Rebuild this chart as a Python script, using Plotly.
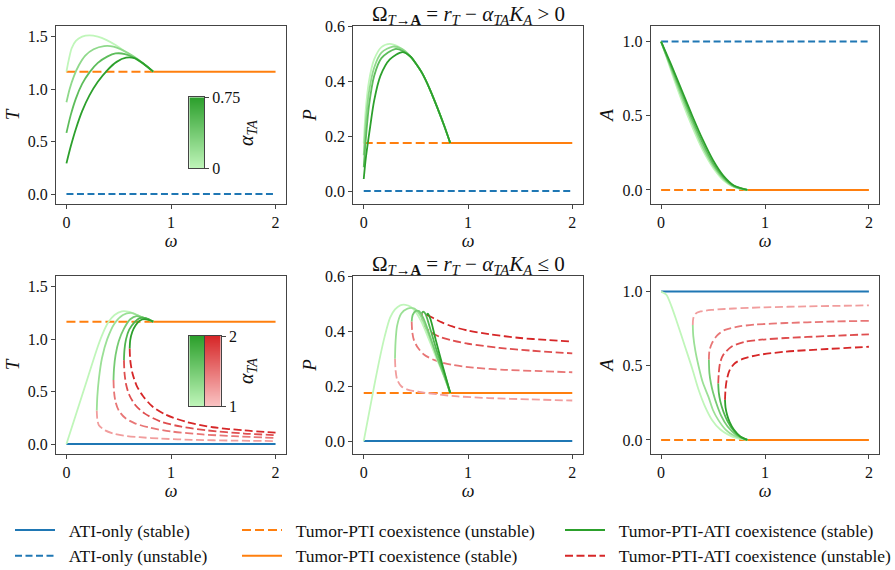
import plotly.graph_objects as go

W, H = 895, 570
FONT = "Liberation Serif, Times New Roman, DejaVu Serif, serif"

# ---------------- data ----------------
omega_span = [0.0, 2.0]
omega_switch = 0.83          # Tumor-PTI coexistence becomes stable beyond this ω

ati_T, ati_P, ati_A = 0.0, 0.0, 1.0
pti_T, pti_P, pti_A = 1.167, 0.175, 0.0

# top row: Ω > 0, α_TA in [0, 0.75]
alpha_top = [0.0, 0.25, 0.5, 0.75]
alpha_top_range = [0.0, 0.75]

top_T_w = [
    [0.0, 0.02, 0.05, 0.09, 0.15, 0.22, 0.3, 0.38, 0.47, 0.56, 0.66, 0.75, 0.83],
    [0.0, 0.03, 0.07, 0.12, 0.18, 0.26, 0.36, 0.45, 0.54, 0.63, 0.73, 0.83],
    [0.0, 0.04, 0.09, 0.15, 0.22, 0.3, 0.39, 0.47, 0.56, 0.65, 0.74, 0.83],
    [0.0, 0.04, 0.09, 0.15, 0.22, 0.3, 0.39, 0.48, 0.57, 0.65, 0.74, 0.83],
]
top_T = [
    [1.167, 1.27, 1.39, 1.46, 1.50, 1.512, 1.50, 1.47, 1.42, 1.36, 1.29, 1.23, 1.167],
    [0.875, 1.0, 1.12, 1.23, 1.32, 1.38, 1.41, 1.405, 1.37, 1.32, 1.25, 1.167],
    [0.583, 0.75, 0.91, 1.05, 1.16, 1.25, 1.31, 1.34, 1.335, 1.3, 1.24, 1.167],
    [0.292, 0.45, 0.62, 0.79, 0.94, 1.07, 1.18, 1.26, 1.30, 1.295, 1.24, 1.167],
]

top_P_w = [
    [0.0, 0.02, 0.05, 0.1, 0.17, 0.25, 0.33, 0.42, 0.5, 0.56, 0.63, 0.7, 0.77, 0.83],
    [0.0, 0.02, 0.05, 0.1, 0.17, 0.28, 0.36, 0.44, 0.5, 0.56, 0.63, 0.7, 0.77, 0.83],
    [0.0, 0.02, 0.05, 0.1, 0.17, 0.3, 0.38, 0.45, 0.5, 0.56, 0.63, 0.7, 0.77, 0.83],
    [0.0, 0.02, 0.06, 0.1, 0.16, 0.25, 0.37, 0.45, 0.5, 0.56, 0.63, 0.7, 0.77, 0.83],
]
top_P = [
    [0.175, 0.30, 0.40, 0.48, 0.525, 0.537, 0.527, 0.50, 0.465, 0.43, 0.375, 0.31, 0.24, 0.175],
    [0.131, 0.25, 0.36, 0.45, 0.505, 0.527, 0.52, 0.495, 0.465, 0.43, 0.375, 0.31, 0.24, 0.175],
    [0.087, 0.19, 0.31, 0.42, 0.485, 0.518, 0.51, 0.49, 0.465, 0.43, 0.375, 0.31, 0.24, 0.175],
    [0.044, 0.12, 0.23, 0.33, 0.42, 0.48, 0.507, 0.49, 0.465, 0.43, 0.375, 0.31, 0.24, 0.175],
]

top_A_w = [
    [0.0, 0.05, 0.1, 0.2, 0.3, 0.4, 0.5, 0.6, 0.7, 0.83],
    [0.0, 0.05, 0.1, 0.2, 0.3, 0.4, 0.5, 0.6, 0.7, 0.83],
    [0.0, 0.05, 0.1, 0.2, 0.3, 0.4, 0.5, 0.6, 0.7, 0.83],
    [0.0, 0.05, 0.1, 0.2, 0.3, 0.4, 0.5, 0.6, 0.7, 0.83],
]
top_A = [
    [1.0, 0.90, 0.795, 0.60, 0.425, 0.27, 0.15, 0.065, 0.02, 0.0],
    [1.0, 0.905, 0.81, 0.625, 0.45, 0.29, 0.165, 0.075, 0.022, 0.0],
    [1.0, 0.91, 0.825, 0.65, 0.475, 0.315, 0.18, 0.085, 0.027, 0.0],
    [1.0, 0.92, 0.84, 0.67, 0.50, 0.34, 0.20, 0.095, 0.03, 0.0],
]

# bottom row: Ω <= 0, α_TA in [1, 2]
alpha_bot = [1.0, 1.25, 1.5, 1.75, 2.0]
alpha_bot_range = [1.0, 2.0]

bot_T_stable_w = [
    [0.0, 0.1, 0.2, 0.3, 0.35, 0.4, 0.46, 0.53, 0.6, 0.7, 0.83],
    [0.29, 0.295, 0.31, 0.34, 0.39, 0.46, 0.54, 0.62, 0.72, 0.83],
    [0.45, 0.455, 0.47, 0.5, 0.55, 0.61, 0.67, 0.75, 0.83],
    [0.55, 0.555, 0.57, 0.6, 0.65, 0.7, 0.76, 0.83],
    [0.605, 0.61, 0.63, 0.66, 0.7, 0.75, 0.83],
]
bot_T_stable = [
    [0.0, 0.31, 0.62, 0.93, 1.06, 1.16, 1.23, 1.265, 1.26, 1.22, 1.167],
    [0.32, 0.45, 0.62, 0.82, 1.0, 1.15, 1.23, 1.25, 1.21, 1.167],
    [0.61, 0.72, 0.85, 0.98, 1.1, 1.19, 1.22, 1.2, 1.167],
    [0.80, 0.9, 1.0, 1.09, 1.16, 1.2, 1.2, 1.167],
    [0.91, 0.99, 1.07, 1.13, 1.175, 1.19, 1.167],
]
bot_T_unstable_w = [
    [0.29, 0.295, 0.31, 0.37, 0.45, 0.55, 0.7, 0.9, 1.2, 1.6, 2.0],
    [0.45, 0.455, 0.47, 0.5, 0.56, 0.65, 0.8, 1.0, 1.3, 1.6, 2.0],
    [0.55, 0.555, 0.57, 0.6, 0.66, 0.75, 0.9, 1.1, 1.35, 1.7, 2.0],
    [0.605, 0.61, 0.63, 0.67, 0.73, 0.82, 0.95, 1.15, 1.4, 1.7, 2.0],
]
bot_T_unstable = [
    [0.32, 0.24, 0.18, 0.13, 0.10, 0.08, 0.065, 0.052, 0.04, 0.033, 0.028],
    [0.61, 0.50, 0.40, 0.32, 0.25, 0.20, 0.155, 0.12, 0.092, 0.075, 0.058],
    [0.80, 0.68, 0.57, 0.47, 0.37, 0.29, 0.215, 0.165, 0.13, 0.10, 0.085],
    [0.91, 0.80, 0.68, 0.56, 0.46, 0.36, 0.28, 0.21, 0.16, 0.13, 0.108],
]

bot_P_stable_w = [
    [0.0, 0.05, 0.1, 0.157, 0.2, 0.253, 0.3, 0.35, 0.4, 0.45, 0.5, 0.56, 0.62, 0.7, 0.77, 0.83],
    [0.30, 0.305, 0.32, 0.36, 0.42, 0.48, 0.54, 0.6, 0.68, 0.76, 0.83],
    [0.46, 0.47, 0.5, 0.53, 0.57, 0.62, 0.7, 0.77, 0.83],
    [0.557, 0.57, 0.59, 0.63, 0.7, 0.77, 0.83],
    [0.605, 0.615, 0.64, 0.69, 0.76, 0.83],
]
bot_P_stable = [
    [0.0, 0.1, 0.2, 0.308, 0.38, 0.45, 0.48, 0.495, 0.497, 0.49, 0.47, 0.43, 0.375, 0.30, 0.235, 0.175],
    [0.30, 0.36, 0.42, 0.465, 0.483, 0.484, 0.46, 0.41, 0.33, 0.25, 0.175],
    [0.436, 0.46, 0.475, 0.474, 0.45, 0.40, 0.31, 0.24, 0.175],
    [0.466, 0.472, 0.465, 0.42, 0.33, 0.25, 0.175],
    [0.46, 0.465, 0.445, 0.37, 0.27, 0.175],
]
bot_P_unstable_w = [
    [0.30, 0.305, 0.32, 0.36, 0.42, 0.52, 0.7, 0.9, 1.2, 1.6, 2.0],
    [0.46, 0.465, 0.48, 0.52, 0.58, 0.68, 0.85, 1.05, 1.35, 1.7, 2.0],
    [0.557, 0.565, 0.59, 0.65, 0.73, 0.85, 1.0, 1.3, 1.6, 2.0],
    [0.605, 0.63, 0.67, 0.75, 0.85, 1.0, 1.2, 1.5, 1.75, 2.0],
]
bot_P_unstable = [
    [0.30, 0.26, 0.225, 0.20, 0.188, 0.18, 0.171, 0.163, 0.157, 0.152, 0.148],
    [0.436, 0.40, 0.37, 0.34, 0.315, 0.295, 0.278, 0.268, 0.26, 0.255, 0.251],
    [0.466, 0.44, 0.415, 0.395, 0.38, 0.367, 0.355, 0.34, 0.33, 0.32],
    [0.46, 0.456, 0.448, 0.433, 0.418, 0.403, 0.39, 0.376, 0.369, 0.363],
]

bot_A_stable_w = [
    [0.0, 0.05, 0.1, 0.15, 0.23, 0.3, 0.36, 0.42, 0.49, 0.57, 0.65, 0.73, 0.83],
    [0.305, 0.31, 0.33, 0.36, 0.4, 0.456, 0.5, 0.55, 0.62, 0.7, 0.83],
    [0.46, 0.465, 0.48, 0.5, 0.54, 0.58, 0.64, 0.72, 0.83],
    [0.55, 0.555, 0.57, 0.6, 0.64, 0.7, 0.76, 0.83],
    [0.615, 0.62, 0.635, 0.66, 0.7, 0.76, 0.83],
]
bot_A_stable = [
    [1.0, 0.98, 0.9, 0.8, 0.63, 0.48, 0.34, 0.23, 0.135, 0.07, 0.034, 0.012, 0.0],
    [0.775, 0.70, 0.60, 0.50, 0.39, 0.29, 0.20, 0.135, 0.07, 0.03, 0.0],
    [0.54, 0.45, 0.38, 0.32, 0.23, 0.16, 0.09, 0.035, 0.0],
    [0.38, 0.32, 0.26, 0.19, 0.125, 0.06, 0.022, 0.0],
    [0.27, 0.22, 0.17, 0.12, 0.07, 0.025, 0.0],
]
bot_A_unstable_w = [
    [0.305, 0.31, 0.33, 0.38, 0.5, 0.7, 1.0, 1.4, 2.0],
    [0.46, 0.465, 0.49, 0.54, 0.615, 0.75, 0.9, 1.2, 1.6, 2.0],
    [0.55, 0.555, 0.567, 0.6, 0.68, 0.8, 0.94, 1.2, 1.6, 2.0],
    [0.615, 0.62, 0.632, 0.66, 0.71, 0.8, 0.94, 1.2, 1.6, 2.0],
]
bot_A_unstable = [
    [0.775, 0.82, 0.85, 0.866, 0.877, 0.886, 0.894, 0.90, 0.907],
    [0.54, 0.60, 0.652, 0.705, 0.742, 0.765, 0.777, 0.788, 0.797, 0.803],
    [0.38, 0.45, 0.517, 0.575, 0.63, 0.66, 0.674, 0.687, 0.70, 0.712],
    [0.27, 0.34, 0.405, 0.47, 0.517, 0.55, 0.573, 0.595, 0.613, 0.628],
]

legend_labels = [
    "ATI-only (stable)", "ATI-only (unstable)",
    "Tumor-PTI coexistence (unstable)", "Tumor-PTI coexistence (stable)",
    "Tumor-PTI-ATI coexistence (stable)", "Tumor-PTI-ATI coexistence (unstable)",
]

# ---------------- styles ----------------
BLUE, ORANGE, GREEN, RED = "#1f77b4", "#ff7f0e", "#2ca02c", "#d62728"
GREEN_LO, GREEN_HI = (192, 246, 186), (44, 160, 44)
RED_LO, RED_HI = (250, 196, 196), (214, 39, 40)
DASH_BLUE, DASH_ORANGE, DASH_RED = "7px,3.5px", "9px,4px", "8px,3.5px"
NBSP = "\u00a0"


def mix(lo, hi, f):
    return "rgb(%d,%d,%d)" % tuple(round(a + (b - a) * f) for a, b in zip(lo, hi))


def frac(a, rng):
    return (a - rng[0]) / (rng[1] - rng[0])


col_px = [(56.0, 286.0), (353.3, 582.7), (650.7, 879.3)]
row_px = [(26.0, 204.0), (276.0, 454.0)]


def xdom(a, b):
    return [a / W, b / W]


def ydom(a, b):
    return [1 - b / H, 1 - a / H]


fig = go.Figure()


def ax_ids(k):
    return ("x" if k == 1 else f"x{k}"), ("y" if k == 1 else f"y{k}")


def line(k, x, y, color, dash=None, width=2.0, spline=False):
    xa, ya = ax_ids(k)
    ln = dict(color=color, width=width)
    if dash:
        ln["dash"] = dash
    if spline:
        ln["shape"] = "spline"
        ln["smoothing"] = 0.8
    fig.add_trace(go.Scatter(x=x, y=y, mode="lines", line=ln, xaxis=xa, yaxis=ya,
                             showlegend=False, hoverinfo="skip"))


ati_vals = [ati_T, ati_P, ati_A]
pti_vals = [pti_T, pti_P, pti_A]

for r in range(2):
    for c in range(3):
        k = r * 3 + c + 1
        # ATI-only: unstable on the top row, stable on the bottom row
        line(k, omega_span, [ati_vals[c]] * 2, BLUE, dash=DASH_BLUE if r == 0 else None)
        # Tumor-PTI coexistence
        line(k, [omega_span[0], omega_switch], [pti_vals[c]] * 2, ORANGE, dash=DASH_ORANGE)
        line(k, [omega_switch, omega_span[1]], [pti_vals[c]] * 2, ORANGE)

# top-row coexistence branches
for c, (ws, vs) in enumerate([(top_T_w, top_T), (top_P_w, top_P), (top_A_w, top_A)]):
    for a, w, v in zip(alpha_top, ws, vs):
        line(c + 1, w, v, mix(GREEN_LO, GREEN_HI, frac(a, alpha_top_range)), width=1.8, spline=True)

# bottom-row coexistence branches
bot_sets = [
    (bot_T_stable_w, bot_T_stable, bot_T_unstable_w, bot_T_unstable),
    (bot_P_stable_w, bot_P_stable, bot_P_unstable_w, bot_P_unstable),
    (bot_A_stable_w, bot_A_stable, bot_A_unstable_w, bot_A_unstable),
]
for c, (sw, sv, uw, uv) in enumerate(bot_sets):
    k = 4 + c
    for a, w, v in zip(alpha_bot[1:], uw, uv):
        line(k, w, v, mix(RED_LO, RED_HI, frac(a, alpha_bot_range)), dash=DASH_RED, width=1.8, spline=True)
    for a, w, v in zip(alpha_bot, sw, sv):
        line(k, w, v, mix(GREEN_LO, GREEN_HI, frac(a, alpha_bot_range)), width=1.8, spline=True)

# legend proxies
legend_style = [
    (BLUE, None, "legend"), (BLUE, DASH_BLUE, "legend"),
    (ORANGE, DASH_ORANGE, "legend2"), (ORANGE, None, "legend2"),
    (GREEN, None, "legend3"), (RED, DASH_RED, "legend3"),
]
for i, (lab, (col, dash, lg)) in enumerate(zip(legend_labels, legend_style)):
    ln = dict(color=col, width=2)
    if dash:
        ln["dash"] = dash
    fig.add_trace(go.Scatter(x=[None], y=[None], mode="lines", line=ln, name=NBSP * 2 + lab,
                             legend=lg, legendgroup=f"g{i}", showlegend=True))

# colour-bar insets drawn as smooth heatmaps
def cbar(k, rng, lo, hi):
    fig.add_trace(go.Heatmap(z=[[rng[0], rng[0]], [rng[1], rng[1]]], x=[0, 1], y=rng,
                             zsmooth="best", zmin=rng[0], zmax=rng[1],
                             colorscale=[[0, mix(lo, hi, 0)], [1, mix(lo, hi, 1)]],
                             showscale=False, hoverinfo="skip",
                             xaxis=f"x{k}", yaxis=f"y{k}"))


cbar(7, alpha_top_range, GREEN_LO, GREEN_HI)
cbar(8, alpha_bot_range, GREEN_LO, GREEN_HI)
cbar(9, alpha_bot_range, RED_LO, RED_HI)

# ---------------- layout ----------------
tickfont = dict(family=FONT, size=16, color="#111")
axis_common = dict(showline=True, mirror=True, linecolor="#444", linewidth=1,
                   ticks="outside", ticklen=4, tickcolor="#444", tickwidth=1,
                   showgrid=False, zeroline=False, tickfont=tickfont)

y_specs = [
    ("<i>T</i>", [-0.095, 1.602], [0, 0.5, 1.0, 1.5]),
    ("<i>P</i>", [-0.047, 0.602], [0, 0.2, 0.4, 0.6]),
    ("<i>A</i>", [-0.095, 1.105], [0, 0.5, 1.0]),
]

layout = dict(width=W, height=H, margin=dict(l=0, r=0, t=0, b=0, autoexpand=False),
              paper_bgcolor="white", plot_bgcolor="white",
              font=dict(family=FONT, color="#111"))

for r in range(2):
    for c in range(3):
        k = r * 3 + c + 1
        xa = "xaxis" if k == 1 else f"xaxis{k}"
        ya = "yaxis" if k == 1 else f"yaxis{k}"
        xid, yid = ax_ids(k)
        ytitle, yrange, yticks = y_specs[c]
        layout[xa] = dict(axis_common, domain=xdom(*col_px[c]), anchor=yid,
                          range=[-0.1, 2.1], tickvals=[0, 1, 2], ticktext=["0", "1", "2"],
                          title=dict(text="<i>ω</i>", font=dict(family=FONT, size=18), standoff=0))
        layout[ya] = dict(axis_common, domain=ydom(*row_px[r]), anchor=xid,
                          range=yrange, tickvals=yticks, tickformat=".1f",
                          title=dict(text=ytitle, font=dict(family=FONT, size=19), standoff=3))

# inset colour bars
inset = dict(showline=True, mirror=True, linecolor="#444", linewidth=1, showgrid=False,
             zeroline=False, fixedrange=True)
layout["xaxis7"] = dict(inset, domain=xdom(189.3, 204.0), anchor="y7", range=[0, 1],
                        showticklabels=False, ticks="")
layout["yaxis7"] = dict(inset, domain=ydom(97.3, 168.3), anchor="x7", side="right",
                        range=alpha_top_range, tickvals=alpha_top_range, ticktext=["0", "0.75"],
                        ticks="outside", ticklen=4, tickcolor="#444", tickfont=tickfont)
layout["xaxis8"] = dict(inset, domain=xdom(189.3, 204.7), anchor="y8", range=[0, 1],
                        showticklabels=False, ticks="")
layout["yaxis8"] = dict(inset, domain=ydom(336.0, 406.0), anchor="x8", range=alpha_bot_range,
                        showticklabels=False, ticks="")
layout["xaxis9"] = dict(inset, domain=xdom(204.7, 220.7), anchor="y9", range=[0, 1],
                        showticklabels=False, ticks="")
layout["yaxis9"] = dict(inset, domain=ydom(336.0, 406.0), anchor="x9", side="right",
                        range=alpha_bot_range, tickvals=alpha_bot_range, ticktext=["1", "2"],
                        ticks="outside", ticklen=4, tickcolor="#444", tickfont=tickfont)

annotations = [
    dict(text="Ω<sub><i>T</i>→<b>A</b></sub> = <i>r<sub>T</sub></i> − <i>α<sub>TA</sub>K<sub>A</sub></i> > 0",
         x=468 / W, y=1 - 15 / H),
    dict(text="Ω<sub><i>T</i>→<b>A</b></sub> = <i>r<sub>T</sub></i> − <i>α<sub>TA</sub>K<sub>A</sub></i> ≤ 0",
         x=468 / W, y=1 - 265 / H),
]
annotations = [dict(a, xref="paper", yref="paper", showarrow=False, xanchor="center",
                    yanchor="middle", font=dict(family=FONT, size=21, color="#111"))
               for a in annotations]
for ycen in (133, 371):
    annotations.append(dict(text="<i>α<sub>TA</sub></i>", x=247 / W, y=1 - ycen / H,
                            xref="paper", yref="paper", showarrow=False, textangle=-90,
                            xanchor="center", yanchor="middle",
                            font=dict(family=FONT, size=20, color="#111")))
layout["annotations"] = annotations

leg = dict(orientation="v", xanchor="left", yanchor="top", y=1 - 512 / H,
           font=dict(family=FONT, size=17.5, color="#111"), bgcolor="rgba(0,0,0,0)",
           tracegroupgap=0, traceorder="grouped", itemwidth=40)
layout["legend"] = dict(leg, x=10 / W)
layout["legend2"] = dict(leg, x=237 / W)
layout["legend3"] = dict(leg, x=560 / W)

fig.update_layout(**layout)
fig.write_html("out.html")
